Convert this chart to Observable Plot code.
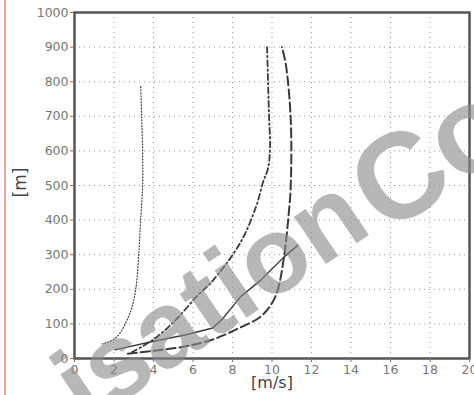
<!DOCTYPE html>
<html><head><meta charset="utf-8">
<script src="https://cdn.jsdelivr.net/npm/d3@7"></script>
<script src="https://cdn.jsdelivr.net/npm/@observablehq/plot@0.6"></script>
<style>
body{margin:0;background:#fff;overflow:hidden}
#wrap{position:relative;width:474px;height:395px;overflow:hidden}
#redline{position:absolute;left:4px;top:0;width:2px;height:395px;background:#f4a3a3}
</style></head>
<body><div id="wrap"><div id="redline"></div></div>
<script>
// Series: [m/s] speed vs height [m]
const dottedX = [1.4, 2.1, 2.8, 3.1, 3.25, 3.35, 3.45, 3.45, 3.4, 3.35];
const dottedY = [42, 60, 130, 200, 300, 400, 500, 600, 700, 790];
const dashDotX = [2.9, 4.0, 5.1, 6.2, 7.0, 8.4, 9.2, 9.55, 9.8, 9.9, 9.85, 9.8, 9.75];
const dashDotY = [18, 55, 110, 180, 225, 335, 440, 510, 550, 610, 700, 800, 900];
const solidX = [2.05, 4.0, 5.6, 7.0, 7.5, 8.0, 8.4, 9.4, 10.6, 11.3];
const solidY = [25, 50, 68, 88, 115, 150, 178, 225, 293, 327];
const dashedX = [2.7, 4.0, 5.6, 7.0, 8.3, 9.4, 10.0, 10.3, 10.6, 10.85, 10.95, 10.95, 10.7, 10.5];
const dashedY = [14, 22, 35, 55, 87, 120, 160, 200, 290, 420, 500, 690, 850, 900];
const xTicks = [0, 2, 4, 6, 8, 10, 12, 14, 16, 18, 20];
const yTicks = [0, 100, 200, 300, 400, 500, 600, 700, 800, 900, 1000];
const xLabel = "[m/s]";
const yLabel = "[m]";
const watermarkParts = ["isation", "Co"];

const pts = (xs, ys) => xs.map((x, i) => ({x, y: ys[i]}));
const lineCol = "#3a3a3a";

const chart = Plot.plot({
  width: 474, height: 395,
  marginLeft: 74, marginTop: 12, marginRight: 5, marginBottom: 37,
  style: {fontFamily: "'DejaVu Sans', Verdana, sans-serif", fontSize: "12.5px", color: "#777", background: "transparent"},
  x: {domain: [0, 20], ticks: xTicks, label: null},
  y: {domain: [0, 1000], ticks: yTicks, label: null},
  marks: [
    Plot.ruleX(xTicks.slice(1, -1), {stroke: "#999", strokeWidth: 1, strokeDasharray: "1,4"}),
    Plot.ruleY(yTicks.slice(1, -1), {stroke: "#999", strokeWidth: 1, strokeDasharray: "1,4"}),
    Plot.line(pts(dottedX, dottedY), {x: "x", y: "y", curve: "catmull-rom", stroke: lineCol, strokeWidth: 1.2, strokeDasharray: "1,2"}),
    Plot.line(pts(dashDotX, dashDotY), {x: "x", y: "y", curve: "catmull-rom", stroke: lineCol, strokeWidth: 1.8, strokeDasharray: "6,3,1.5,3"}),
    Plot.line(pts(solidX, solidY), {x: "x", y: "y", curve: "linear", stroke: lineCol, strokeWidth: 1.4}),
    Plot.line(pts(dashedX, dashedY), {x: "x", y: "y", curve: "catmull-rom", stroke: lineCol, strokeWidth: 2, strokeDasharray: "9,4"}),
    Plot.frame({stroke: "#555", strokeWidth: 2.5}),
    Plot.axisX({ticks: xTicks, tickSize: 4, tickPadding: 3, label: null, color: "#777"}),
    Plot.axisY({ticks: yTicks, tickSize: 4, tickPadding: 2, tickFormat: d => String(d), label: null, color: "#777"}),
    Plot.text([xLabel], {frameAnchor: "bottom", dy: 29, fontSize: 16, fill: "#444"}),
    Plot.text([yLabel], {frameAnchor: "left", dx: -54, dy: 12, rotate: -90, fontSize: 17, fill: "#444"})
  ]
});
const wrap = document.getElementById("wrap");
wrap.appendChild(chart);
chart.style.position = "absolute"; chart.style.left = "0"; chart.style.top = "0";

// watermark overlay
const ov = d3.select(wrap).append("svg")
  .attr("width", 474).attr("height", 395)
  .style("position", "absolute").style("left", 0).style("top", 0)
  .style("pointer-events", "none");
const wmPos = [[86, 426, 108], [386, 236, 122]];
watermarkParts.forEach((t, i) => {
  const [x, y, s] = wmPos[i];
  ov.append("text")
    .attr("transform", `translate(${x},${y}) rotate(-34)`)
    .attr("font-family", "'Liberation Sans', Arial, sans-serif")
    .attr("font-weight", "bold")
    .attr("font-size", s)
    .attr("fill", "#8a8a8a")
    .attr("fill-opacity", 0.62)
    .text(t);
});
</script>
</body></html>
